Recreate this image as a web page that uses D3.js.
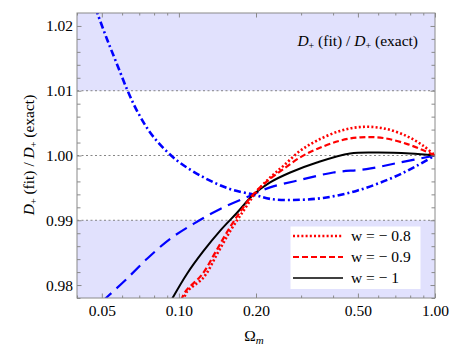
<!DOCTYPE html>
<html>
<head>
<meta charset="utf-8">
<script src="https://cdn.jsdelivr.net/npm/d3@7"></script>
<style>
  body { margin: 0; background: #fff; }
  svg text { font-family: "Liberation Serif", "Tinos", "DejaVu Serif", serif; }
</style>
</head>
<body>
<div id="chart"></div>
<script>
// values: [Omega_m, D+ fit / D+ exact]
const dotted08 = [[0.104,0.9776],[0.1076,0.9790],[0.125,0.9812],[0.141,0.9848],[0.159,0.9884],[0.179,0.9915],[0.2,0.9943],[0.227,0.9966],[0.256,0.9984],[0.297,1.0007],[0.346,1.0023],[0.426,1.0038],[0.512,1.0044],[0.628,1.0042],[0.775,1.0030],[0.9,1.0015],[1.0,1.0]];
const dashed09 = [[0.102,0.9776],[0.106,0.9790],[0.123,0.9816],[0.139,0.9851],[0.157,0.9887],[0.177,0.9918],[0.198,0.9943],[0.227,0.9964],[0.256,0.9979],[0.297,0.9997],[0.346,1.0010],[0.426,1.0023],[0.512,1.0028],[0.628,1.0027],[0.775,1.0018],[0.9,1.0008],[1.0,1.0]];
const solid1 = [[0.092,0.9772],[0.1076,0.98175],[0.125,0.9853],[0.145,0.9884],[0.169,0.9912],[0.196,0.9940],[0.227,0.99585],[0.272,0.99738],[0.346,0.99892],[0.466,1.00031],[0.594,1.00046],[0.8,1.00031],[1.0,1.0]];
const blueDashed = [[0.050,0.9774],[0.0524,0.97815],[0.0627,0.9810],[0.0751,0.98406],[0.0925,0.98714],[0.114,0.98945],[0.145,0.99175],[0.19,0.9938],[0.227,0.99508],[0.297,0.99622],[0.401,0.99738],[0.54,0.9979],[0.73,0.99892],[1.0,1.0]];
const blueDotDash = [[0.0472,1.0228],[0.0482,1.0218],[0.0524,1.01795],[0.0573,1.0141],[0.0633,1.00985],[0.0697,1.0064],[0.0797,1.00283],[0.0983,0.99923],[0.125,0.99662],[0.158,0.99483],[0.196,0.99395],[0.227,0.9933],[0.28,0.99314],[0.366,0.99345],[0.496,0.99457],[0.687,0.99662],[0.849,0.99842],[1.0,1.0]];

const xMajor = [0.05, 0.1, 0.2, 0.5, 1.0];
const xMinor = [0.04, 0.06, 0.07, 0.08, 0.09, 0.3, 0.4, 0.6, 0.7, 0.8, 0.9];
const yMajor = [0.98, 0.99, 1.00, 1.01, 1.02];
const yMinor = [0.978, 0.982, 0.984, 0.986, 0.988, 0.992, 0.994, 0.996, 0.998, 1.002, 1.004, 1.006, 1.008, 1.012, 1.014, 1.016, 1.018];
const bands = [[1.01, 1.022], [0.978, 0.99]];
const refLines = [0.99, 1.00, 1.01];
const legendItems = ["w = \u2212 0.8", "w = \u2212 0.9", "w = \u2212 1"];

const FONT = "'Liberation Serif', Tinos, 'DejaVu Serif', serif";
const width = 454;
const height = 350;
const margin = { top: 13, right: 19, bottom: 52, left: 77 };

const svg = d3.select("#chart")
  .append("svg")
  .attr("width", width)
  .attr("height", height)
  .attr("font-family", FONT);

const x = d3.scaleLog()
  .domain([0.04, 1.0])
  .range([margin.left, width - margin.right]);

const y = d3.scaleLinear()
  .domain([0.978, 1.022])
  .range([height - margin.bottom, margin.top]);

svg.append("clipPath").attr("id", "clip")
  .append("rect")
  .attr("x", margin.left).attr("y", margin.top)
  .attr("width", width - margin.left - margin.right)
  .attr("height", height - margin.top - margin.bottom);

// shaded bands
svg.selectAll(".band")
  .data(bands)
  .enter().append("rect")
  .attr("x", margin.left)
  .attr("width", width - margin.left - margin.right)
  .attr("y", d => y(d[1]))
  .attr("height", d => y(d[0]) - y(d[1]))
  .attr("fill", "#e1e1fd");

svg.selectAll(".ref")
  .data(refLines)
  .enter().append("line")
  .attr("x1", margin.left).attr("x2", width - margin.right)
  .attr("y1", d => y(d)).attr("y2", d => y(d))
  .attr("stroke", "#777")
  .attr("stroke-width", 0.9)
  .attr("stroke-dasharray", "2,2.5");

// inset title
const title = svg.append("text")
  .attr("x", 418).attr("y", 46)
  .attr("text-anchor", "end")
  .attr("font-family", FONT)
  .attr("font-size", 15.5);
title.append("tspan").attr("font-style", "italic").text("D");
title.append("tspan").attr("font-size", 10).attr("dy", 3).text("+");
title.append("tspan").attr("dy", -3).text(" (fit) / ");
title.append("tspan").attr("font-style", "italic").text("D");
title.append("tspan").attr("font-size", 10).attr("dy", 3).text("+");
title.append("tspan").attr("dy", -3).text(" (exact)");

// legend box
svg.append("rect")
  .attr("x", 290.5).attr("y", 226.5)
  .attr("width", 130).attr("height", 62.5)
  .attr("fill", "#fff");

const line = d3.line()
  .x(d => x(d[0]))
  .y(d => y(d[1]))
  .curve(d3.curveCatmullRom.alpha(0.5));

const series = [
  { data: blueDashed, color: "#0000ff", dash: "13,7", width: 2.2 },
  { data: blueDotDash, color: "#0000ff", dash: "7,3,2,3", width: 2.6 },
  { data: solid1, color: "#000", dash: null, width: 2 },
  { data: dashed09, color: "#ff0000", dash: "6,3", width: 2.2 },
  { data: dotted08, color: "#ff0000", dash: "2,2.2", width: 2.6 }
];

const plot = svg.append("g").attr("clip-path", "url(#clip)");
series.forEach(s => {
  plot.append("path")
    .datum(s.data)
    .attr("fill", "none")
    .attr("stroke", s.color)
    .attr("stroke-width", s.width)
    .attr("stroke-dasharray", s.dash)
    .attr("d", line);
});

// legend entries
const legendStyles = [series[4], series[3], series[2]];
const legendY = d3.scalePoint().domain(legendItems).range([236, 278]);
legendItems.forEach((label, i) => {
  const s = legendStyles[i];
  svg.append("line")
    .attr("x1", 293).attr("x2", 343)
    .attr("y1", legendY(label)).attr("y2", legendY(label))
    .attr("stroke", s.color)
    .attr("stroke-width", s.width - 0.3)
    .attr("stroke-dasharray", s.dash);
  svg.append("text")
    .attr("x", 351).attr("y", legendY(label) + 5)
    .attr("font-family", FONT)
    .attr("font-size", 15.5)
    .text(label);
});

// frame
svg.append("rect")
  .attr("x", margin.left).attr("y", margin.top)
  .attr("width", width - margin.left - margin.right)
  .attr("height", height - margin.top - margin.bottom)
  .attr("fill", "none")
  .attr("stroke", "#8a8a8a")
  .attr("stroke-width", 1);

function styleAxis(g) {
  g.attr("font-family", FONT);
  g.select(".domain").remove();
  g.selectAll(".tick line").attr("stroke", "#8a8a8a");
  g.selectAll("text")
    .attr("font-family", FONT)
    .attr("font-size", 15.5)
    .attr("fill", "#000");
}

const xb = height - margin.bottom;
svg.append("g").attr("transform", `translate(0,${xb})`)
  .call(d3.axisBottom(x).tickValues(xMajor).tickSize(-4.5).tickPadding(7).tickFormat(d3.format(".2f")))
  .call(styleAxis);
svg.append("g").attr("transform", `translate(0,${xb})`)
  .call(d3.axisBottom(x).tickValues(xMinor).tickSize(-2.5).tickFormat(""))
  .call(styleAxis);
svg.append("g").attr("transform", `translate(0,${margin.top})`)
  .call(d3.axisTop(x).tickValues(xMajor).tickSize(-4.5).tickFormat(""))
  .call(styleAxis);
svg.append("g").attr("transform", `translate(0,${margin.top})`)
  .call(d3.axisTop(x).tickValues(xMinor).tickSize(-2.5).tickFormat(""))
  .call(styleAxis);

svg.append("g").attr("transform", `translate(${margin.left},0)`)
  .call(d3.axisLeft(y).tickValues(yMajor).tickSize(-4.5).tickPadding(4).tickFormat(d3.format(".2f")))
  .call(styleAxis);
svg.append("g").attr("transform", `translate(${margin.left},0)`)
  .call(d3.axisLeft(y).tickValues(yMinor).tickSize(-3.5).tickFormat(""))
  .call(styleAxis);
svg.append("g").attr("transform", `translate(${width - margin.right},0)`)
  .call(d3.axisRight(y).tickValues(yMajor).tickSize(-4.5).tickFormat(""))
  .call(styleAxis);
svg.append("g").attr("transform", `translate(${width - margin.right},0)`)
  .call(d3.axisRight(y).tickValues(yMinor).tickSize(-3.5).tickFormat(""))
  .call(styleAxis);

// axis labels
const xl = svg.append("text")
  .attr("x", 254).attr("y", 341)
  .attr("text-anchor", "middle")
  .attr("font-family", FONT)
  .attr("font-size", 15.5);
xl.append("tspan").text("\u03A9");
xl.append("tspan").attr("font-style", "italic").attr("font-size", 11).attr("dy", 3).text("m");

const yl = svg.append("text")
  .attr("transform", "translate(34,155) rotate(-90)")
  .attr("text-anchor", "middle")
  .attr("font-family", FONT)
  .attr("font-size", 15.5);
yl.append("tspan").attr("font-style", "italic").text("D");
yl.append("tspan").attr("font-size", 10).attr("dy", 3).text("+");
yl.append("tspan").attr("dy", -3).text(" (fit) / ");
yl.append("tspan").attr("font-style", "italic").text("D");
yl.append("tspan").attr("font-size", 10).attr("dy", 3).text("+");
yl.append("tspan").attr("dy", -3).text(" (exact)");
</script>
</body>
</html>
